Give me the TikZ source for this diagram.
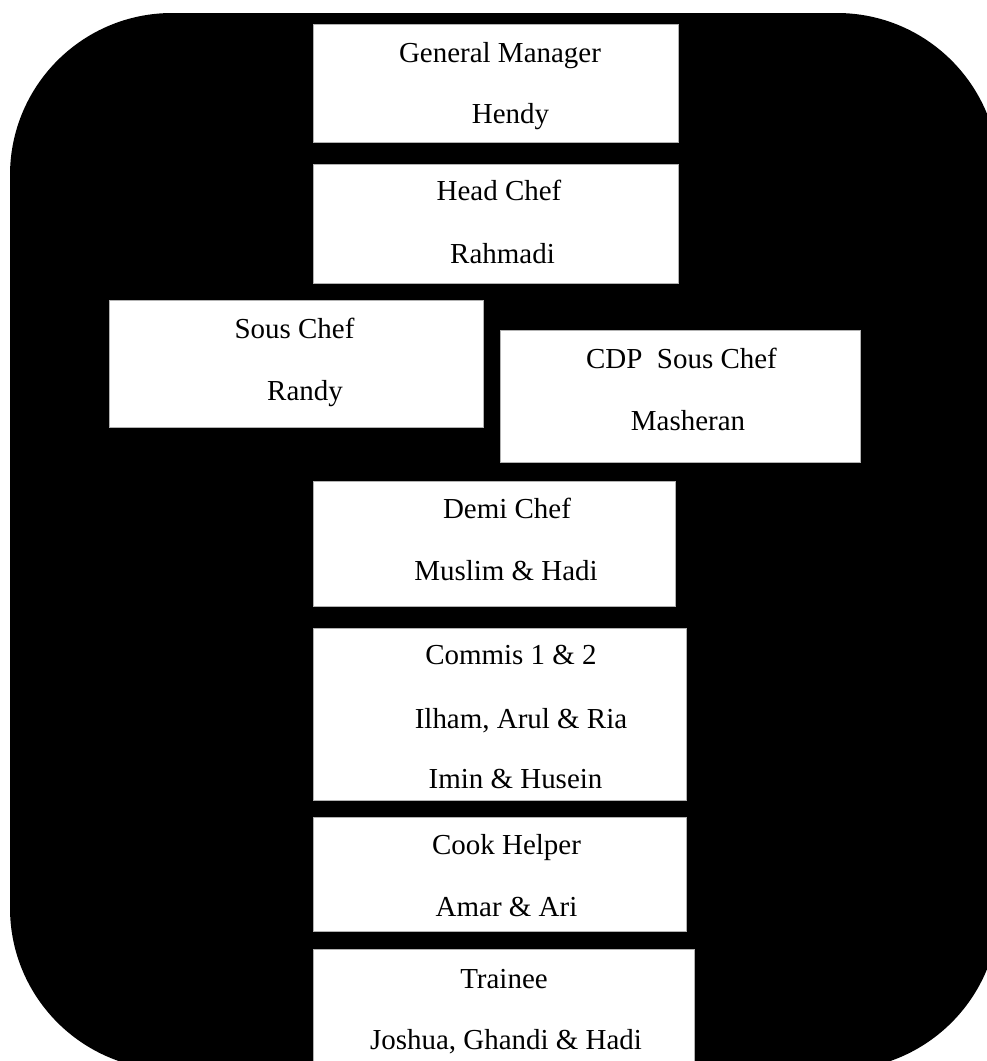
\documentclass[tikz,border=0pt]{standalone}
\usepackage{fontspec}
\setmainfont{Liberation Serif}
\usepackage{tikz}
\usetikzlibrary{positioning}

\begin{document}
\begin{tikzpicture}[x=0.025cm, y=-0.025cm,
  chartbox/.style={fill=white, draw=gray!60, line width=0.4pt},
  roletext/.style={anchor=base, inner sep=0pt, font=\fontsize{20.6}{24}\selectfont}]

\useasboundingbox (0,0) rectangle (987,1061);
\clip (0,0) rectangle (987,1061);

% black rounded background
\fill[black, rounded corners=4.05cm] (10,13) rectangle (999,1070);

\path[chartbox] (313,24) rectangle (678,142);
\path[chartbox] (313,164) rectangle (678,283);
\path[chartbox] (109,300) rectangle (483,427);
\path[chartbox] (500,330) rectangle (860,462);
\path[chartbox] (313,481) rectangle (675,606);
\path[chartbox] (313,628) rectangle (686,800);
\path[chartbox] (313,817) rectangle (686,931);
\path[chartbox] (313,949) rectangle (694,1080);

\node[roletext] (gm) at (500,62) {General Manager};
\node[roletext] (gmname) at (510.5,123) {Hendy};

\node[roletext] (head) at (499,200) {Head Chef};
\node[roletext] (headname) at (502.5,263) {Rahmadi};

\node[roletext] (sous) at (294.5,338) {Sous Chef};
\node[roletext] (sousname) at (305,400) {Randy};

\node[roletext] (cdp) at (681.5,368) {CDP\ \ Sous Chef};
\node[roletext] (cdpname) at (688,430) {Masheran};

\node[roletext] (demi) at (507,518) {Demi Chef};
\node[roletext] (deminame) at (506,580) {Muslim \& Hadi};

\node[roletext] (commis) at (511,664) {Commis 1 \& 2};
\node[roletext] (commisname) at (521,728) {Ilham, Arul \& Ria};
\node[roletext] (commisnametwo) at (515.5,788) {Imin \& Husein};

\node[roletext] (helper) at (506.5,854) {Cook Helper};
\node[roletext] (helpername) at (506.5,916) {Amar \& Ari};

\node[roletext] (trainee) at (504,988) {Trainee};
\node[roletext] (traineename) at (506,1049) {Joshua, Ghandi \& Hadi};

\end{tikzpicture}
\end{document}
